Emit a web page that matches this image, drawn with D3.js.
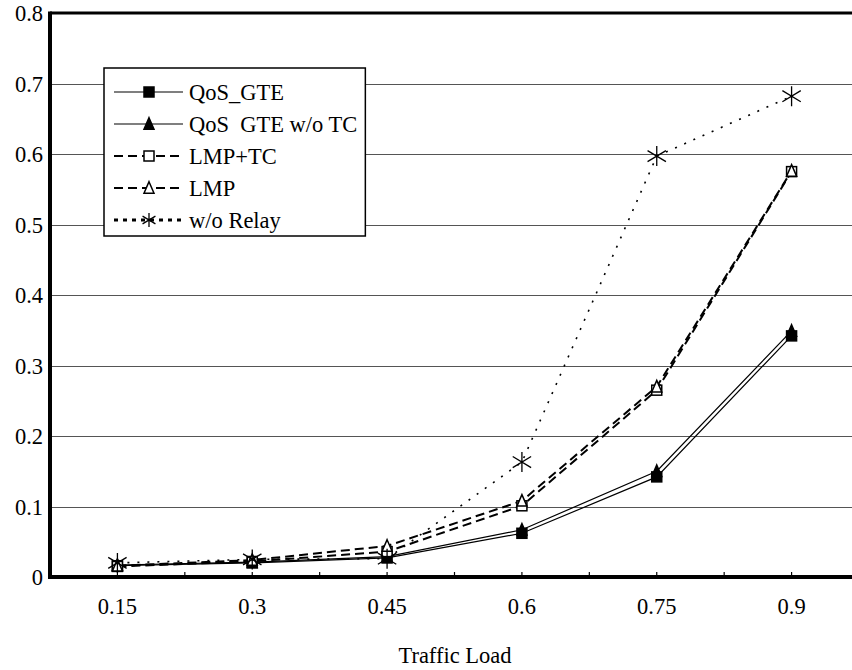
<!DOCTYPE html>
<html>
<head>
<meta charset="utf-8">
<script src="https://cdn.jsdelivr.net/npm/d3@7"></script>
<style>
  html, body { margin: 0; padding: 0; background: #fff; }
  svg { display: block; }
  svg text { font-family: "Liberation Serif", "Times New Roman", Times, serif !important; fill: #000; }
</style>
</head>
<body>
<svg id="chart" width="852" height="670"></svg>
<script>
// ---- data ----
const categories = ["0.15", "0.3", "0.45", "0.6", "0.75", "0.9"];
const qosGTE      = [0.016, 0.020, 0.027, 0.062, 0.142, 0.342];
const qosGTEnoTC  = [0.017, 0.021, 0.029, 0.067, 0.150, 0.349];
const lmpTC       = [0.015, 0.022, 0.036, 0.101, 0.265, 0.575];
const lmp         = [0.016, 0.024, 0.044, 0.108, 0.270, 0.576];
const noRelay     = [0.020, 0.025, 0.026, 0.163, 0.597, 0.682];
const seriesNames = ["QoS_GTE", "QoS  GTE w/o TC", "LMP+TC", "LMP", "w/o Relay"];
const yTickValues = [0, 0.1, 0.2, 0.3, 0.4, 0.5, 0.6, 0.7, 0.8];
const yTickLabels = ["0", "0.1", "0.2", "0.3", "0.4", "0.5", "0.6", "0.7", "0.8"];
const xTitle = "Traffic Load";

// ---- layout ----
const pLeft = 50, pRight = 859, pTop = 13, pBottom = 577;
const FONT = '"Liberation Serif", "Times New Roman", serif';
const FS = 22.5;
const svg = d3.select("#chart");

const x = d3.scaleBand().domain(categories).range([pLeft, pRight]).paddingInner(0).paddingOuter(0);
const cx = c => x(c) + x.bandwidth() / 2;
const y = d3.scaleLinear().domain([0, 0.8]).range([pBottom, pTop]);

const series = [
  { name: seriesNames[0], values: qosGTE,     dash: null,  width: 1.2, marker: "fsquare" },
  { name: seriesNames[1], values: qosGTEnoTC, dash: null,  width: 1.2, marker: "ftriangle" },
  { name: seriesNames[2], values: lmpTC,      dash: "9,5", width: 2,   marker: "osquare" },
  { name: seriesNames[3], values: lmp,        dash: "9,5", width: 2,   marker: "otriangle" },
  { name: seriesNames[4], values: noRelay,    dash: "2,8", width: 1.6, marker: "asterisk" }
];

// gridlines
svg.append("g").selectAll("line").data(yTickValues.slice(1, -1)).join("line")
  .attr("x1", pLeft).attr("x2", 852)
  .attr("y1", d => Math.round(y(d)) + 0.5).attr("y2", d => Math.round(y(d)) + 0.5)
  .attr("stroke", "#555").attr("stroke-width", 1);

// y axis labels
const yAxis = d3.axisLeft(y).tickValues(yTickValues).tickSize(0).tickPadding(7)
  .tickFormat((d, i) => yTickLabels[i]);
const gy = svg.append("g").attr("transform", `translate(${pLeft},0)`).call(yAxis)
  .attr("font-family", FONT).attr("font-size", FS);
gy.select(".domain").remove();
gy.selectAll("text").attr("dy", "0.34em");

// x axis labels
const xAxis = d3.axisBottom(x).tickSize(0).tickPadding(21);
const gx = svg.append("g").attr("transform", `translate(0,${pBottom})`).call(xAxis)
  .attr("font-family", FONT).attr("font-size", FS);
gx.select(".domain").remove();

// x ticks (every half category), pointing inward
const tickPos = d3.range(0, categories.length * 2 + 1).map(k => pLeft + k * x.bandwidth() / 2);
svg.append("g").selectAll("line").data(tickPos).join("line")
  .attr("x1", d => d).attr("x2", d => d)
  .attr("y1", pBottom).attr("y2", pBottom - 5)
  .attr("stroke", "#000").attr("stroke-width", 1.2);

// frame: top border, left axis, bottom axis
svg.append("line").attr("x1", pLeft).attr("x2", 852).attr("y1", pTop).attr("y2", pTop)
  .attr("stroke", "#000").attr("stroke-width", 3);
svg.append("line").attr("x1", pLeft).attr("x2", pLeft).attr("y1", pTop - 1.5).attr("y2", pBottom + 2)
  .attr("stroke", "#000").attr("stroke-width", 4);
svg.append("line").attr("x1", pLeft - 2).attr("x2", 852).attr("y1", pBottom).attr("y2", pBottom)
  .attr("stroke", "#000").attr("stroke-width", 4);

// markers
function drawMarker(g, type, px, py, s) {
  if (type === "fsquare" || type === "osquare") {
    g.append("rect").attr("x", px - s / 2).attr("y", py - s / 2).attr("width", s).attr("height", s)
      .attr("fill", type === "fsquare" ? "#000" : "#fff").attr("stroke", "#000").attr("stroke-width", 1.5);
  } else if (type === "ftriangle" || type === "otriangle") {
    const h = s * 1.05;
    g.append("path")
      .attr("d", `M${px},${py - h / 2 - 1} L${px + s / 2},${py + h / 2} L${px - s / 2},${py + h / 2} Z`)
      .attr("fill", type === "ftriangle" ? "#000" : "#fff").attr("stroke", "#000").attr("stroke-width", 1.5);
  } else if (type === "asterisk") {
    const r = s / 2;
    const a = r * 0.92;
    g.append("path")
      .attr("d", `M${px},${py - r} L${px},${py + r} M${px - a},${py - a * 0.6} L${px + a},${py + a * 0.6} M${px - a},${py + a * 0.6} L${px + a},${py - a * 0.6}`)
      .attr("fill", "none").attr("stroke", "#000").attr("stroke-width", 1.3);
  }
}

// lines
const line = d3.line().x((d, i) => cx(categories[i])).y(d => y(d));
const plot = svg.append("g");
series.forEach(s => {
  plot.append("path").attr("d", line(s.values)).attr("fill", "none")
    .attr("stroke", "#000").attr("stroke-width", s.width)
    .attr("stroke-dasharray", s.dash);
});
series.forEach(s => {
  const g = plot.append("g");
  s.values.forEach((v, i) => {
    const size = s.marker === "asterisk" ? 20 : 10;
    drawMarker(g, s.marker, cx(categories[i]), y(v), size);
  });
});

// x title
svg.append("text").attr("x", 455).attr("y", 663).attr("text-anchor", "middle")
  .attr("font-family", FONT).attr("font-size", FS).text(xTitle);

// legend
const lg = svg.append("g").attr("font-family", FONT).attr("font-size", FS);
const lx = 104, ly = 68, rowH = 32, firstRow = 92;
const box = lg.append("rect").attr("x", lx).attr("y", ly).attr("fill", "#fff")
  .attr("stroke", "#000").attr("stroke-width", 1.5);
let maxRight = 0;
series.forEach((s, i) => {
  const ry = firstRow + i * rowH;
  lg.append("line").attr("x1", 114).attr("x2", 183).attr("y1", ry).attr("y2", ry)
    .attr("stroke", "#000").attr("stroke-width", s.marker === "asterisk" ? 3 : (s.dash ? 2 : 1.2))
    .attr("stroke-dasharray", s.marker === "asterisk" ? "4,5" : s.dash);
  drawMarker(lg, s.marker, 149, ry, s.marker === "asterisk" ? 14 : 10);
  const t = lg.append("text").attr("x", 189).attr("y", ry).attr("dy", "0.34em")
    .style("white-space", "pre").attr("xml:space", "preserve").text(s.name);
  const bb = t.node().getBBox();
  maxRight = Math.max(maxRight, bb.x + bb.width);
});
box.attr("width", maxRight + 8 - lx).attr("height", firstRow + 4 * rowH + 16 - ly);
</script>
</body>
</html>
